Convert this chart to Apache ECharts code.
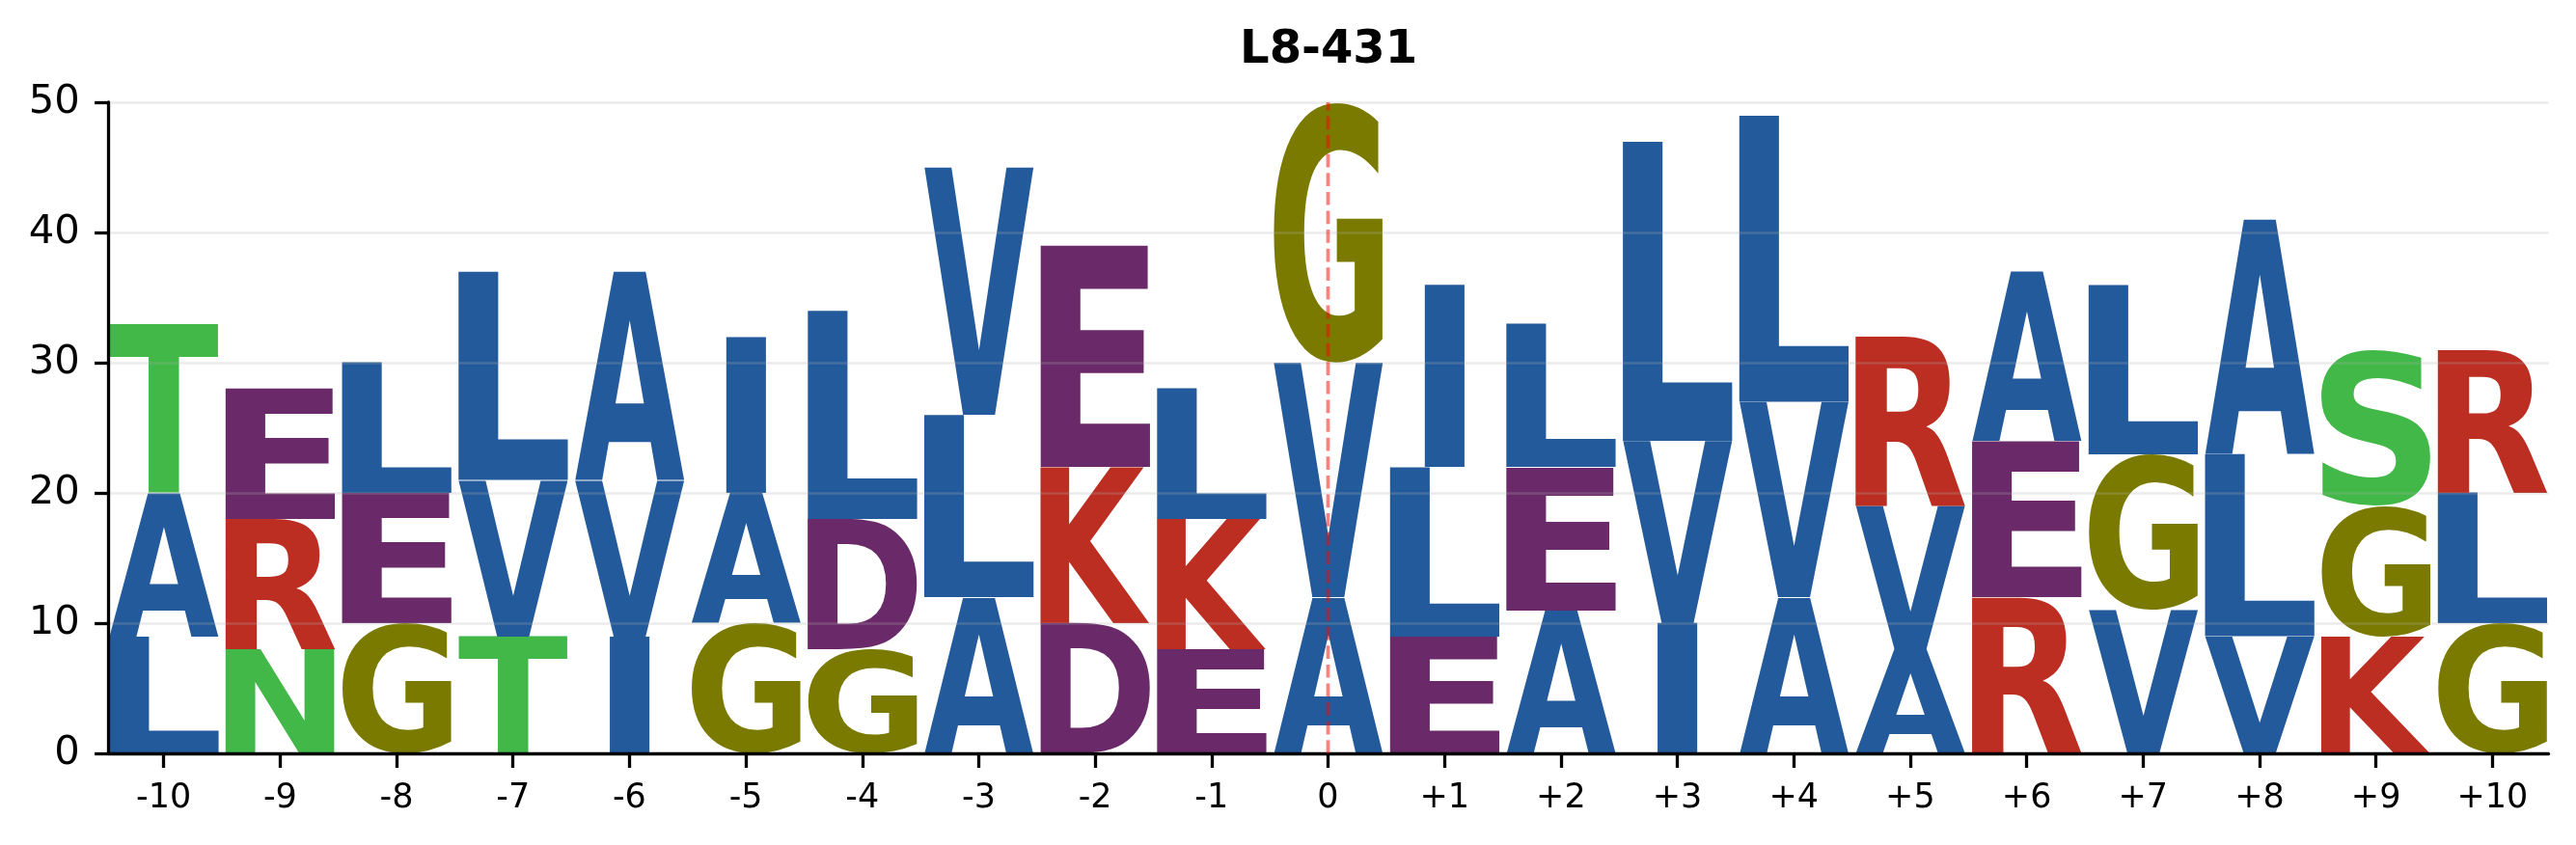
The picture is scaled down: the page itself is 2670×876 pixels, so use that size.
<!DOCTYPE html>
<html>
<head>
<meta charset="utf-8">
<script src="https://cdn.jsdelivr.net/npm/echarts@6/dist/echarts.min.js"></script>
<style>
  html, body { margin: 0; padding: 0; background: #ffffff; }
  #chart { width: 2670px; height: 876px; }
</style>
</head>
<body>
<div id="chart"></div>
<script>
// ---------------- data ----------------
const chartTitle = 'L8-431';
const positions = ['-10','-9','-8','-7','-6','-5','-4','-3','-2','-1','0',
                   '+1','+2','+3','+4','+5','+6','+7','+8','+9','+10'];
const yTicks = [0, 10, 20, 30, 40, 50];

// stacked letters, bottom -> top
const bottomLetters = ['L','N','G','T','I','G','G','A','D','E','A','E','A','I','A','A','R','V','V','K','G'];
const bottomHeights = [ 9,  8, 10,  9,  9, 10,  8, 12, 10,  8, 12,  9, 11, 10, 12,  8, 12, 11,  9,  9, 10];
const middleLetters = ['A','R','E','V','V','A','D','L','K','K','V','L','E','V','V','V','E','G','L','G','L'];
const middleHeights = [11, 10, 10, 12, 12, 10, 10, 14, 12, 10, 18, 13, 11, 14, 15, 11, 12, 12, 14, 10, 10];
const topLetters    = ['T','E','L','L','A','I','L','V','E','L','G','I','L','L','L','R','A','L','A','S','R'];
const topHeights    = [13, 10, 10, 16, 16, 12, 16, 19, 17, 10, 20, 14, 11, 23, 22, 13, 13, 13, 18, 12, 11];

const centerPosition = '0';

// ---------------- styling ----------------
const letterColors = {
  A: '#235A9B', I: '#235A9B', L: '#235A9B', V: '#235A9B',
  D: '#6A2968', E: '#6A2968',
  K: '#BC2E22', R: '#BC2E22',
  T: '#41B847', N: '#41B847', S: '#41B847',
  G: '#7A7A00'
};
const HALF_W = 0.471;
const FONT_FAMILY = '"DejaVu Sans", "Liberation Sans", sans-serif';
const LETTER_FONT = 'bold 200px ' + FONT_FAMILY;

// build stacked cells from the arrays
const layers = [[bottomLetters, bottomHeights], [middleLetters, middleHeights], [topLetters, topHeights]];
const cells = [];
positions.forEach((p, i) => {
  let floor = 0;
  layers.forEach(([letters, heights]) => {
    const h = heights[i];
    cells.push({ value: [i, floor, floor + h], letter: letters[i] });
    floor += h;
  });
});

// glyph ink metrics (same canvas settings zrender uses: align left, baseline middle)
const letterCtx = document.createElement('canvas').getContext('2d');
letterCtx.font = LETTER_FONT;
letterCtx.textBaseline = 'middle';
letterCtx.textAlign = 'left';
const inkCache = {};
Object.keys(letterColors).forEach(ch => {
  const m = letterCtx.measureText(ch);
  inkCache[ch] = { l: m.actualBoundingBoxLeft, r: m.actualBoundingBoxRight,
                   a: m.actualBoundingBoxAscent, d: m.actualBoundingBoxDescent };
});
function ink(ch) { return inkCache[ch]; }

function renderLetter(params, api) {
  const cell = cells[params.dataIndex];
  const pos = api.value(0), lo = api.value(1), hi = api.value(2);
  const pTL = api.coord([pos - HALF_W, hi]);
  const pBR = api.coord([pos + HALF_W, lo]);
  const rectW = pBR[0] - pTL[0];
  const rectH = pBR[1] - pTL[1];
  const m = ink(cell.letter);
  const mE = ink('E');
  const sx = Math.min(rectW / (m.l + m.r), rectW / (mE.l + mE.r));
  const inkW = (m.l + m.r) * sx;
  const left = pTL[0] + (rectW - inkW) / 2;
  const sy = rectH / (m.a + m.d);
  return {
    type: 'text',
    x: left + m.l * sx,
    y: pTL[1] + m.a * sy,
    scaleX: sx,
    scaleY: sy,
    style: {
      text: cell.letter,
      font: LETTER_FONT,
      fill: letterColors[cell.letter],
      align: 'left',
      verticalAlign: 'middle'
    }
  };
}

// title placement centred over plot area
const GRID_LEFT = 112.7, GRID_RIGHT = 28.5, GRID_TOP = 106, GRID_BOTTOM = 95;
const TITLE_FONT_SIZE = 48;
const titleCtx = document.createElement('canvas').getContext('2d');
titleCtx.font = 'bold ' + TITLE_FONT_SIZE + 'px ' + FONT_FAMILY;
const titleW = titleCtx.measureText(chartTitle).width;
const plotCenter = (GRID_LEFT + (2670 - GRID_RIGHT)) / 2;

const tickIdx = positions.map((p, i) => i);

const chart = echarts.init(document.getElementById('chart'), null, { renderer: 'canvas' });
chart.setOption({
  animation: false,
  backgroundColor: '#ffffff',
  title: {
    text: chartTitle,
    left: plotCenter - titleW / 2,
    top: 29,
    padding: 0,
    textStyle: { fontFamily: FONT_FAMILY, fontWeight: 'bold', fontSize: TITLE_FONT_SIZE, color: '#000000' }
  },
  grid: { left: GRID_LEFT, right: GRID_RIGHT, top: GRID_TOP, bottom: GRID_BOTTOM, containLabel: false },
  xAxis: {
    type: 'value',
    min: -0.472,
    max: 20.482,
    z: 6,
    axisLine: { show: true, onZero: false, lineStyle: { color: '#000000', width: 3.3 } },
    axisTick: { show: true, customValues: tickIdx, length: 15, lineStyle: { color: '#000000', width: 3.3 } },
    axisLabel: {
      customValues: tickIdx,
      formatter: v => positions[Math.round(v)],
      fontFamily: FONT_FAMILY, fontSize: 35, color: '#000000', margin: 29.5
    },
    splitLine: { show: false }
  },
  yAxis: {
    type: 'value',
    min: yTicks[0],
    max: yTicks[yTicks.length - 1],
    interval: 10,
    z: 5,
    axisLine: { show: true, onZero: false, lineStyle: { color: '#000000', width: 3.3 } },
    axisTick: { show: true, length: 14.6, lineStyle: { color: '#000000', width: 3.3 } },
    axisLabel: { fontFamily: FONT_FAMILY, fontSize: 41.7, color: '#000000', margin: 30, padding: [10, 0, 0, 0] },
    splitLine: { show: true, lineStyle: { color: 'rgba(176,176,176,0.25)', width: 2.7 } }
  },
  series: [
    {
      type: 'custom',
      name: 'logo',
      renderItem: renderLetter,
      data: cells,
      encode: { x: 0, y: [1, 2] },
      z: 2,
      silent: true
    },
    {
      type: 'line',
      name: 'center',
      data: [[positions.indexOf(centerPosition), yTicks[0]], [positions.indexOf(centerPosition), yTicks[yTicks.length - 1]]],
      symbol: 'none',
      z: 10,
      silent: true,
      lineStyle: { color: 'rgba(255,0,0,0.5)', width: 3.7, type: [13.7, 5.9] }
    }
  ]
});
</script>
</body>
</html>
